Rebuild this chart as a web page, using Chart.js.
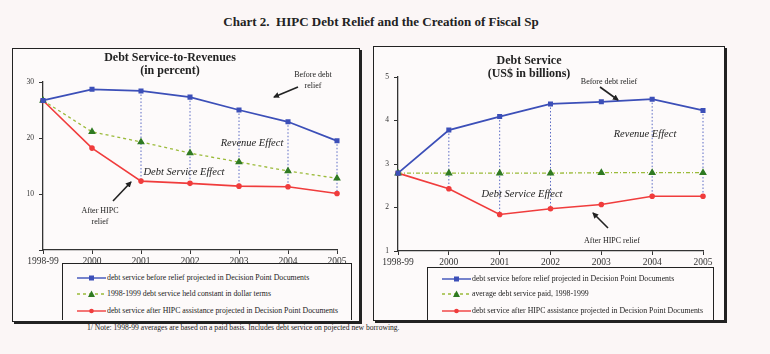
<!DOCTYPE html>
<html>
<head>
<meta charset="utf-8">
<script src="https://cdn.jsdelivr.net/npm/chart.js@4.4.0/dist/chart.umd.min.js"></script>
<style>
  body { margin: 0; width: 770px; height: 354px; position: relative; overflow: hidden;
         background: #fbf6f6; font-family: "Liberation Serif", serif; color: #222; }
  .panel { position: absolute; border: 1px solid #222; box-shadow: 2px 2px 0 #222; background: #fdfafa; }
  canvas { position: absolute; }
  .lbl { position: absolute; transform: translate(-50%, -50%); white-space: nowrap; text-align: center; z-index: 3; }
  .ttl { font-weight: bold; font-size: 12px; line-height: 13px; }
  .note { font-size: 8px; line-height: 11px; }
  .eff { font-style: italic; font-size: 10.5px; }
  .legend { position: absolute; border: 1.5px solid #222; border-bottom: none; background: #fdfafa; z-index: 3; }
  .row { position: absolute; left: 14px; height: 10px; font-size: 7.8px; line-height: 10px; white-space: nowrap; }
  .row svg { vertical-align: middle; margin-right: 1px; }
  #arrows { position: absolute; left: 0; top: 0; z-index: 4; }
</style>
</head>
<body>
<div class="lbl" style="left:381px;top:22px;font-weight:bold;font-size:13px;">Chart 2.&nbsp; HIPC Debt Relief and the Creation of Fiscal Sp</div>

<div class="panel" style="left:12px;top:48px;width:346px;height:272px;"></div>
<canvas id="leftChart" width="346" height="271" style="left:12px;top:49px;"></canvas>
<div class="panel" style="left:373px;top:46px;width:350px;height:273px;"></div>
<canvas id="rightChart" width="350" height="272" style="left:373px;top:47px;"></canvas>

<div class="lbl ttl" style="left:170px;top:64px;">Debt Service-to-Revenues<br>(in percent)</div>
<div class="lbl note" style="left:313px;top:80px;">Before debt<br>relief</div>
<div class="lbl eff" style="left:252px;top:142px;">Revenue Effect</div>
<div class="lbl eff" style="left:184px;top:171px;">Debt Service Effect</div>
<div class="lbl note" style="left:100px;top:216px;">After HIPC<br>relief</div>

<div class="lbl ttl" style="left:529px;top:67px;">Debt Service<br>(US$ in billions)</div>
<div class="lbl note" style="left:609px;top:81px;">Before debt relief</div>
<div class="lbl eff" style="left:645px;top:133px;">Revenue Effect</div>
<div class="lbl eff" style="left:522px;top:193px;">Debt Service Effect</div>
<div class="lbl note" style="left:612px;top:240px;">After HIPC relief</div>

<div class="legend" id="leftLegend" style="left:62px;top:263px;width:288px;height:56px;"></div>
<div class="legend" id="rightLegend" style="left:427px;top:267px;width:285px;height:52px;"></div>

<div class="lbl" style="left:87px;top:327px;transform:translate(0,-50%);font-size:7.6px;">1/ Note: 1998-99 averages are based on a paid basis. Includes debt service on pojected new borrowing.</div>

<svg id="arrows" width="770" height="354">
  <defs>
    <marker id="head" markerWidth="6" markerHeight="6" refX="5" refY="3" orient="auto" markerUnits="userSpaceOnUse">
      <path d="M0,0 L6,3 L0,6 Z" fill="#222"/>
    </marker>
  </defs>
  <line x1="298" y1="87" x2="274" y2="97" stroke="#222" stroke-width="1.6" marker-end="url(#head)"/>
  <line x1="113" y1="201" x2="131" y2="182" stroke="#222" stroke-width="1.6" marker-end="url(#head)"/>
  <line x1="600" y1="87" x2="618" y2="100" stroke="#222" stroke-width="1.6" marker-end="url(#head)"/>
  <line x1="608" y1="228" x2="593" y2="213" stroke="#222" stroke-width="1.6" marker-end="url(#head)"/>
</svg>

<script>
const years = ['1998-99', '2000', '2001', '2002', '2003', '2004', '2005'];

// Debt service-to-revenues (percent)
const ratioBefore   = [26.7, 28.7, 28.4, 27.3, 25.0, 22.9, 19.5];
const ratioConstant = [26.7, 21.1, 19.3, 17.3, 15.7, 14.1, 12.8];
const ratioAfter    = [26.7, 18.2, 12.3, 11.9, 11.4, 11.3, 10.1];

// Debt service (US$ billions)
const usdBefore  = [2.79, 3.78, 4.09, 4.38, 4.43, 4.49, 4.23];
const usdAverage = [2.79, 2.79, 2.79, 2.79, 2.80, 2.80, 2.80];
const usdAfter   = [2.79, 2.43, 1.84, 1.97, 2.07, 2.26, 2.26];

const leftDropYears  = ['2001', '2002', '2003', '2004', '2005'];
const rightDropYears = ['2000', '2001', '2002', '2004', '2005'];

const leftLegendText = [
  'debt service before relief projected in Decision Point Documents',
  '1998-1999 debt service held constant in dollar terms',
  'debt service after HIPC assistance projected in Decision Point Documents'
];
const rightLegendText = [
  'debt service before relief projected in Decision Point Documents',
  'average debt service paid, 1998-1999',
  'debt service after HIPC assistance projected in Decision Point Documents'
];

const BLUE = '#3c4fb8', RED = '#f03c3c', GREEN = '#9bbb3a', DKGREEN = '#2f7a22', DROP = '#5a6ac4';
const tickFont = { family: 'Liberation Serif', size: 9.5 };

// dotted verticals between the "before" and "after" series
const dropLines = {
  id: 'dropLines',
  beforeDatasetsDraw(chart, args, opts) {
    const { ctx, scales: { x, y } } = chart;
    const top = chart.data.datasets[0].data, bot = chart.data.datasets[2].data;
    ctx.save();
    ctx.strokeStyle = DROP;
    ctx.lineWidth = 1;
    ctx.setLineDash([1.5, 2]);
    chart.data.labels.forEach((lab, i) => {
      if (!opts.years.includes(lab)) return;
      const px = x.getPixelForValue(i);
      ctx.beginPath();
      ctx.moveTo(px, y.getPixelForValue(top[i]));
      ctx.lineTo(px, y.getPixelForValue(bot[i]));
      ctx.stroke();
    });
    ctx.restore();
  }
};

function makeChart(id, before, middle, after, yMin, yMax, step, geo, greenDash) {
  new Chart(document.getElementById(id), {
    type: 'line',
    data: {
      labels: years,
      datasets: [
        { data: before, borderColor: BLUE, backgroundColor: BLUE, borderWidth: 1.8,
          pointStyle: 'rect', pointRadius: 2.3, tension: 0 },
        { data: middle, borderColor: GREEN, backgroundColor: DKGREEN, borderWidth: 1.3, borderDash: greenDash,
          pointStyle: 'triangle', pointRadius: 3.2, pointBorderColor: DKGREEN, tension: 0 },
        { data: after, borderColor: RED, backgroundColor: RED, borderWidth: 1.6,
          pointStyle: 'circle', pointRadius: 2, tension: 0 }
      ]
    },
    options: {
      responsive: false,
      animation: false,
      layout: { padding: { left: 0, top: geo.top, right: geo.right, bottom: 0 } },
      plugins: { legend: { display: false }, tooltip: { enabled: false },
                 dropLines: { years: geo.drops } },
      scales: {
        x: {
          grid: { drawOnChartArea: false, tickLength: 4, color: '#333' },
          border: { color: '#333', width: 1.3 },
          ticks: { font: tickFont, color: '#333', padding: 2, maxRotation: 0 },
          afterFit: s => { s.height = geo.xh; }
        },
        y: {
          min: yMin, max: yMax,
          grid: { drawOnChartArea: false, tickLength: 4, color: '#333' },
          border: { color: '#333', width: 1.3 },
          ticks: { stepSize: step, font: { family: 'Liberation Serif', size: 7.5 }, color: '#333', padding: 5,
                   callback: v => (v === 0 ? '' : v) },
          afterFit: s => { s.width = geo.yw; }
        }
      }
    },
    plugins: [dropLines]
  });
}

makeChart('leftChart', ratioBefore, ratioConstant, ratioAfter, 0, 30, 10,
  { top: 33, right: 21, xh: 70, yw: 31, drops: leftDropYears }, [3, 3]);
makeChart('rightChart', usdBefore, usdAverage, usdAfter, 1, 5, 1,
  { top: 30, right: 20, xh: 68, yw: 25, drops: rightDropYears }, [4, 2, 1, 2]);

function buildLegend(el, texts, rowTops, greenDash) {
  const styles = [
    { c: BLUE, dash: '', mk: '<rect x="12" y="1.5" width="5" height="5" fill="' + BLUE + '"/>' },
    { c: GREEN, dash: greenDash, mk: '<path d="M14.5,0.5 L18,7 L11,7 Z" fill="' + DKGREEN + '"/>' },
    { c: RED, dash: '', mk: '<circle cx="14.5" cy="4" r="2.3" fill="' + RED + '"/>' }
  ];
  texts.forEach((t, i) => {
    const s = styles[i];
    const row = document.createElement('div');
    row.className = 'row';
    row.style.top = rowTops[i] + 'px';
    row.innerHTML = '<svg width="29" height="8"><line x1="0" y1="4" x2="29" y2="4" stroke="' + s.c +
      '" stroke-width="1.4" stroke-dasharray="' + s.dash + '"/>' + s.mk + '</svg>' + t;
    el.appendChild(row);
  });
}
buildLegend(document.getElementById('leftLegend'), leftLegendText, [9, 25, 42], '3,3');
buildLegend(document.getElementById('rightLegend'), rightLegendText, [6, 21, 38], '3,3');
</script>
</body>
</html>
